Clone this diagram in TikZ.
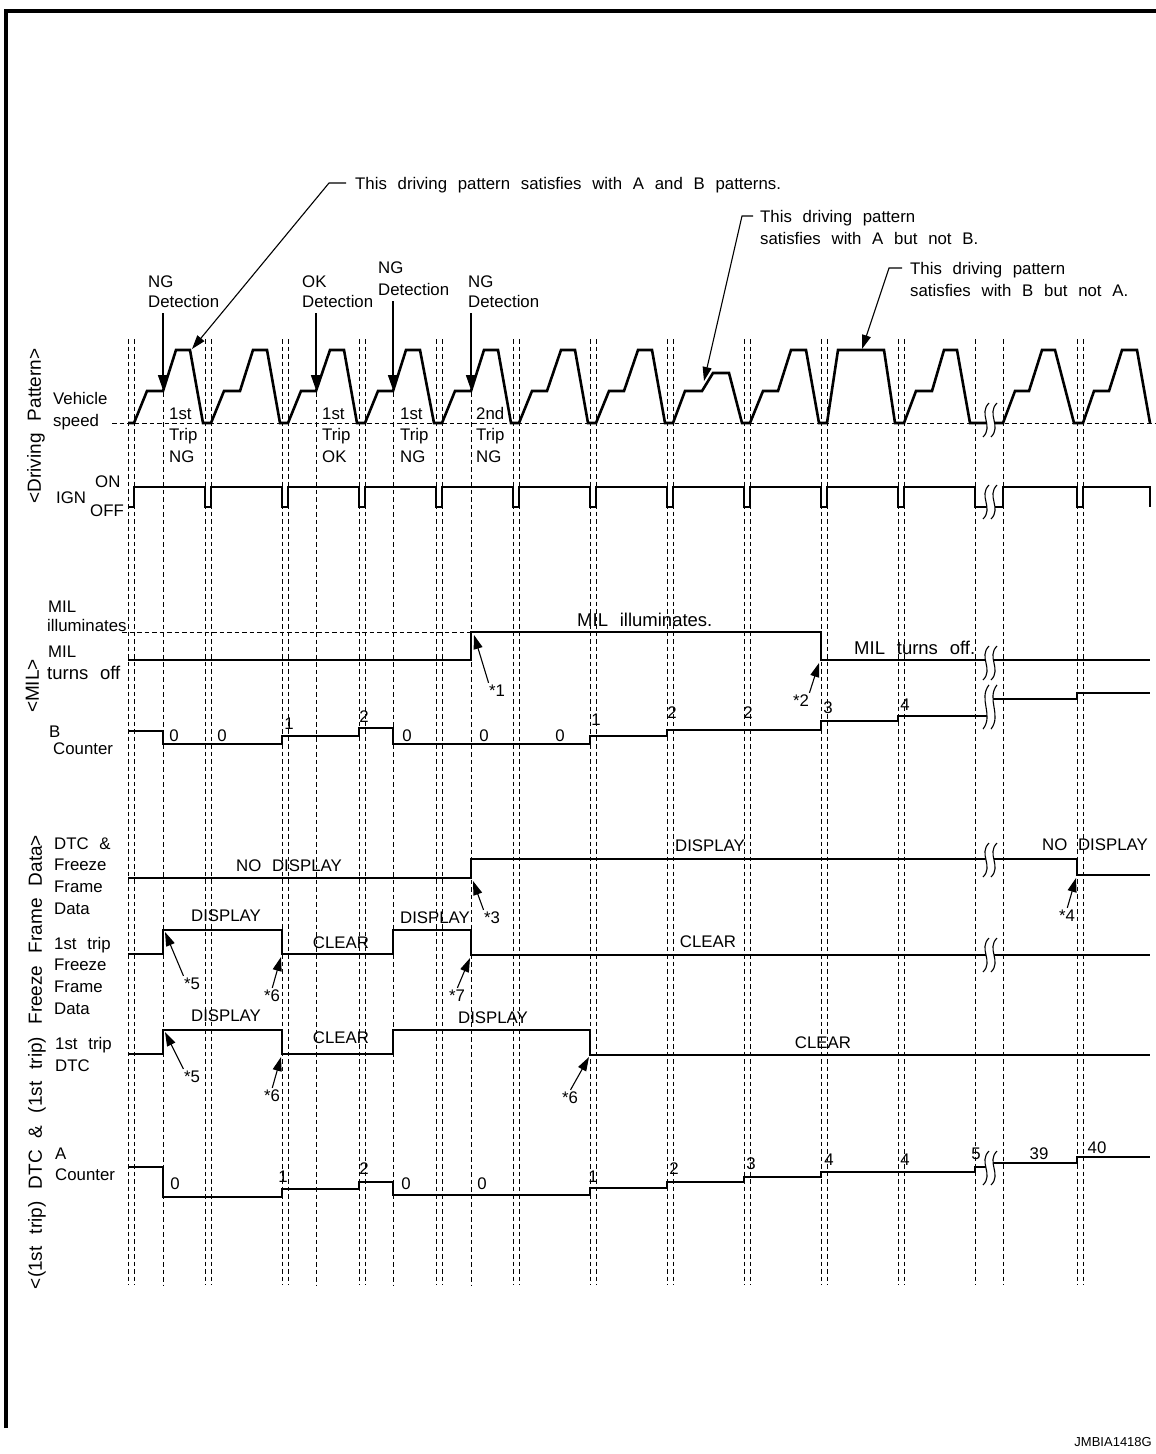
\documentclass[tikz,border=0pt]{standalone}
\usepackage{fontspec}
\setmainfont{Liberation Sans}[WordSpace=2.3]
\usetikzlibrary{arrows.meta}
\begin{document}
\begin{tikzpicture}[x=1pt,y=-1pt,
  every node/.style={inner sep=0pt, font=\fontsize{16.8}{20}\selectfont},
  lbl/.style={anchor=west, text height=12pt, text depth=0pt},
  ctr/.style={anchor=center, text height=12pt, text depth=0pt},
  big/.style={font=\fontsize{18.5}{22}\selectfont, text height=13.3pt},
  vlab/.style={rotate=90, font=\fontsize{19}{22}\selectfont, text height=13.6pt, text depth=0pt},
  sig/.style={line width=2.6pt},
  cnt/.style={line width=2.4pt},
  vdash/.style={line width=0.9pt, dash pattern=on 4.5pt off 3pt},
  ptr/.style={line width=1.1pt, -{Triangle[length=14pt,width=9pt]}},
  det/.style={line width=1.6pt, -{Triangle[length=15pt,width=10pt]}},
  brk/.pic={
    \fill[white] (2,-17) .. controls (-9,-6) and (7,6) .. (-4,17) -- (4,17) .. controls (15,6) and (-1,-6) .. (10,-17) -- cycle;
    \draw[line width=1.1pt] (2,-17) .. controls (-9,-6) and (7,6) .. (-4,17);
    \draw[line width=1.1pt] (10,-17) .. controls (-1,-6) and (15,6) .. (4,17);
  }]
\useasboundingbox (0,0) rectangle (1156,1454);
% frame
\draw[line width=3.5pt] (6,1428) -- (6,11) -- (1156,11);

% vertical dashed lines
\foreach \xx in {128,134,205,211,282,288,359,365,436,442,513,519,590,596,667,673,744,750,821,827,898,904,975,1003,1077,1083}
  \draw[vdash] (\xx,339) -- (\xx,1285);
\foreach \xx in {163,316,393,471}
  \draw[vdash] (\xx,392) -- (\xx,1285);

% vehicle speed
\draw[vdash] (112,423) -- (1156,423);
\draw[sig] (128,423) -- (134,423)
  -- (147,391) -- (163,391) -- (176,350) -- (190,350) -- (203,423) -- (211,423)
  -- (224,391) -- (240,391) -- (253,350) -- (267,350) -- (280,423) -- (288,423)
  -- (301,391) -- (316,391) -- (330,350) -- (344,350) -- (357,423) -- (365,423)
  -- (378,391) -- (393,391) -- (406,350) -- (420,350) -- (434,423) -- (442,423)
  -- (455,391) -- (471,391) -- (484,350) -- (498,350) -- (511,423) -- (519,423)
  -- (532,391) -- (547,391) -- (561,350) -- (575,350) -- (588,423) -- (596,423)
  -- (609,391) -- (624,391) -- (638,350) -- (652,350) -- (665,423) -- (673,423)
  -- (685,391) -- (702,391) -- (713,373) -- (729,373) -- (742,423) -- (750,423)
  -- (763,391) -- (778,391) -- (791,350) -- (806,350) -- (819,423) -- (827,423)
  -- (838,350) -- (884,350) -- (895,423) -- (904,423)
  -- (916,391) -- (932,391) -- (944,350) -- (957,350) -- (970,423) -- (1003,423)
  -- (1015,391) -- (1029,391) -- (1042,350) -- (1055,350) -- (1074,423) -- (1083,423)
  -- (1094,391) -- (1109,391) -- (1122,350) -- (1137,350) -- (1150,423);

% IGN
\draw[sig] (128,507) -- (134,507) -- (134,487)
  \foreach \a/\b in {205/211,282/288,359/365,436/442,513/519,590/596,667/673,744/750,821/827,898/904,975/1003,1077/1083}
  { -- (\a,487) -- (\a,507) -- (\b,507) -- (\b,487) }
  -- (1150,487) -- (1150,507);

% MIL
\draw[vdash] (122,632) -- (471,632);
\draw[sig] (128,660) -- (471,660) -- (471,632) -- (821,632) -- (821,660) -- (1150,660);

% B counter
\draw[cnt] (128,731) -- (163,731) -- (163,744) -- (282,744) -- (282,736) -- (359,736) -- (359,728)
  -- (393,728) -- (393,744) -- (590,744) -- (590,736) -- (667,736) -- (667,730) -- (821,730)
  -- (821,721) -- (898,721) -- (898,716) -- (991,716);
\draw[cnt] (991,699) -- (1077,699) -- (1077,693) -- (1150,693);

% DTC & freeze frame data
\draw[sig] (128,878) -- (471,878) -- (471,859) -- (1077,859) -- (1077,875) -- (1150,875);
% 1st trip freeze frame data
\draw[sig] (128,954) -- (163,954) -- (163,930) -- (282,930) -- (282,954) -- (393,954) -- (393,930)
  -- (471,930) -- (471,955) -- (1150,955);
% 1st trip DTC
\draw[sig] (128,1054) -- (163,1054) -- (163,1030) -- (282,1030) -- (282,1054) -- (393,1054)
  -- (393,1030) -- (590,1030) -- (590,1055) -- (1150,1055);

% A counter
\draw[cnt] (128,1167) -- (163,1167) -- (163,1197) -- (282,1197) -- (282,1189) -- (359,1189) -- (359,1182)
  -- (393,1182) -- (393,1195) -- (590,1195) -- (590,1188) -- (667,1188) -- (667,1182) -- (744,1182)
  -- (744,1177) -- (821,1177) -- (821,1172) -- (975,1172) -- (975,1167) -- (991,1167);
\draw[cnt] (991,1163) -- (1077,1163) -- (1077,1157) -- (1150,1157);

% break marks
\pic at (987,420) {brk};
\pic at (987,502) {brk};
\pic at (987,663) {brk};
\pic[yscale=1.3] at (987,707) {brk};
\pic at (987,860) {brk};
\pic at (987,955) {brk};
\pic at (987,1168) {brk};

% top annotations
\node[lbl] (an1) at (355,183) {This driving pattern satisfies with A and B patterns.};
\node[lbl] (an2a) at (760,216) {This driving pattern};
\node[lbl] (an2b) at (760,238) {satisfies with A but not B.};
\node[lbl] (an3a) at (910,268) {This driving pattern};
\node[lbl] (an3b) at (910,290) {satisfies with B but not A.};
\coordinate (l1a) at (346,183); \coordinate (l1b) at (329,183); \coordinate (l1t) at (192,349);
\coordinate (l2a) at (753,216); \coordinate (l2b) at (742,216); \coordinate (l2t) at (704,381);
\coordinate (l3a) at (902,268); \coordinate (l3b) at (889,268); \coordinate (l3t) at (862,349);
\draw[ptr] (l1a) -- (l1b) -- (l1t);
\draw[ptr] (l2a) -- (l2b) -- (l2t);
\draw[ptr] (l3a) -- (l3b) -- (l3t);

% detection labels
\node[lbl] (d1a) at (148,281) {NG};   \node[lbl] (d1b) at (148,301) {Detection};
\node[lbl] (d2a) at (302,281) {OK};   \node[lbl] (d2b) at (302,301) {Detection};
\node[lbl] (d3a) at (378,267) {NG};   \node[lbl] (d3b) at (378,289) {Detection};
\node[lbl] (d4a) at (468,281) {NG};   \node[lbl] (d4b) at (468,301) {Detection};
\coordinate (a1s) at (163,313); \coordinate (a1t) at (163,390);
\coordinate (a2s) at (316,313); \coordinate (a2t) at (316,390);
\coordinate (a3s) at (393,301); \coordinate (a3t) at (393,390);
\coordinate (a4s) at (471,313); \coordinate (a4t) at (471,390);
\draw[det] (a1s) -- (a1t);
\draw[det] (a2s) -- (a2t);
\draw[det] (a3s) -- (a3t);
\draw[det] (a4s) -- (a4t);

% trip labels
\node[lbl] (t1a) at (169,413) {1st}; \node[lbl] (t1b) at (169,434) {Trip}; \node[lbl] (t1c) at (169,456) {NG};
\node[lbl] (t2a) at (322,413) {1st}; \node[lbl] (t2b) at (322,434) {Trip}; \node[lbl] (t2c) at (322,456) {OK};
\node[lbl] (t3a) at (400,413) {1st}; \node[lbl] (t3b) at (400,434) {Trip}; \node[lbl] (t3c) at (400,456) {NG};
\node[lbl] (t4a) at (476,413) {2nd}; \node[lbl] (t4b) at (476,434) {Trip}; \node[lbl] (t4c) at (476,456) {NG};

% left labels
\node[vlab] (vl1) at (34,426) {<Driving Pattern>};
\node[vlab] (vl2) at (32,686) {<MIL>};
\node[vlab] (vl3) at (35,1062) {<(1st trip) DTC \& (1st trip) Freeze Frame Data>};
\node[lbl] (vs1) at (53,398) {Vehicle}; \node[lbl] (vs2) at (53,420) {speed};
\node[lbl] (ign) at (56,497) {IGN}; \node[lbl] (ignon) at (95,481) {ON}; \node[lbl] (ignoff) at (90,510) {OFF};
\node[lbl] (ml1) at (48,606) {MIL}; \node[lbl] (ml2) at (47,625) {illuminates};
\node[lbl] (ml3) at (48,651) {MIL}; \node[lbl,big] (ml4) at (47,673) {turns off};
\node[lbl] (bl1) at (49,731) {B}; \node[lbl] (bl2) at (53,748) {Counter};
\node[lbl] (fl1) at (54,843) {DTC \&}; \node[lbl] (fl2) at (54,864) {Freeze};
\node[lbl] (fl3) at (54,886) {Frame}; \node[lbl] (fl4) at (54,908) {Data};
\node[lbl] (ffl1) at (54,943) {1st trip}; \node[lbl] (ffl2) at (54,964) {Freeze};
\node[lbl] (ffl3) at (54,986) {Frame}; \node[lbl] (ffl4) at (54,1008) {Data};
\node[lbl] (dl1) at (55,1043) {1st trip}; \node[lbl] (dl2) at (55,1065) {DTC};
\node[lbl] (al1) at (55,1153) {A}; \node[lbl] (al2) at (55,1174) {Counter};

% MIL texts
\node[lbl,big] (mt1) at (577,620) {MIL illuminates.};
\node[lbl,big] (mt2) at (854,648) {MIL turns off.};

% B counter values
\node[ctr] (b1) at (174,735) {0};  \node[ctr] (b2) at (222,735) {0};
\node[ctr] (b3) at (289,723) {1};  \node[ctr] (b4) at (364,716) {2};
\node[ctr] (b5) at (407,735) {0};  \node[ctr] (b6) at (484,735) {0};
\node[ctr] (b7) at (560,735) {0};  \node[ctr] (b8) at (596,719) {1};
\node[ctr] (b9) at (672,712) {2};  \node[ctr] (b10) at (748,712) {2};
\node[ctr] (b11) at (828,707) {3}; \node[ctr] (b12) at (905,704) {4};

% A counter values
\node[ctr] (c1) at (175,1183) {0};  \node[ctr] (c2) at (283,1176) {1};
\node[ctr] (c3) at (364,1168) {2};  \node[ctr] (c4) at (406,1183) {0};
\node[ctr] (c5) at (482,1183) {0};  \node[ctr] (c6) at (593,1176) {1};
\node[ctr] (c7) at (674,1168) {2};  \node[ctr] (c8) at (751,1163) {3};
\node[ctr] (c9) at (829,1159) {4};  \node[ctr] (c10) at (905,1159) {4};
\node[ctr] (c11) at (976,1153) {5}; \node[ctr] (c12) at (1039,1153) {39};
\node[ctr] (c13) at (1097,1147) {40};

% DTC texts
\node[ctr] (x1) at (289,865) {NO DISPLAY};
\node[ctr] (x2) at (710,845) {DISPLAY};
\node[ctr] (x3) at (1095,844) {NO DISPLAY};
\node[ctr] (x4) at (226,915) {DISPLAY};
\node[ctr] (x5) at (341,942) {CLEAR};
\node[ctr] (x6) at (435,917) {DISPLAY};
\node[ctr] (x7) at (708,941) {CLEAR};
\node[ctr] (x8) at (226,1015) {DISPLAY};
\node[ctr] (x9) at (341,1037) {CLEAR};
\node[ctr] (x10) at (493,1017) {DISPLAY};
\node[ctr] (x11) at (823,1042) {CLEAR};

% star notes
\node[ctr] (s1) at (497,690) {*1};
\node[ctr] (s2) at (801,700) {*2};
\node[ctr] (s3) at (492,917) {*3};
\node[ctr] (s4) at (1067,915) {*4};
\node[ctr] (s5) at (192,983) {*5};
\node[ctr] (s6) at (272,995) {*6};
\node[ctr] (s7) at (457,995) {*7};
\node[ctr] (s8) at (192,1076) {*5};
\node[ctr] (s9) at (272,1095) {*6};
\node[ctr] (s10) at (570,1097) {*6};
\coordinate (p1) at (474,635);
\coordinate (p2) at (819,663);
\coordinate (p3) at (473,881);
\coordinate (p4) at (1076,878);
\coordinate (p5) at (165,932);
\coordinate (p6) at (281,957);
\coordinate (p7) at (470,958);
\coordinate (p8) at (165,1032);
\coordinate (p9) at (281,1057);
\coordinate (p10) at (589,1057);
\draw[ptr, shorten <=1pt] (s1.north west) -- (p1);
\draw[ptr, shorten <=1pt] (s2.north east) -- (p2);
\draw[ptr, shorten <=1pt] (s3.north west) -- (p3);
\draw[ptr, shorten <=1pt] (s4.north) -- (p4);
\draw[ptr, shorten <=1pt] (s5.north west) -- (p5);
\draw[ptr, shorten <=1pt] (s6.north) -- (p6);
\draw[ptr, shorten <=1pt] (s7.north) -- (p7);
\draw[ptr, shorten <=1pt] (s8.north west) -- (p8);
\draw[ptr, shorten <=1pt] (s9.north) -- (p9);
\draw[ptr, shorten <=1pt] (s10.north) -- (p10);

% code
\node[anchor=east, font=\fontsize{13}{15}\selectfont, text height=9.3pt, text depth=0pt] (code) at (1152,1442) {JMBIA1418G};
\end{tikzpicture}
\end{document}
